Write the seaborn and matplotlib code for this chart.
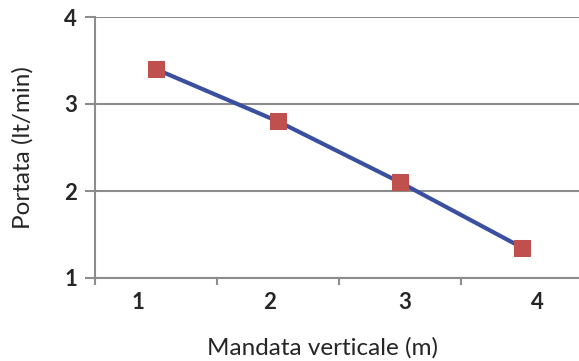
import pandas as pd
import matplotlib.pyplot as plt
import seaborn as sns

# dati
mandata = [1, 2, 3, 4]
portata = [3.4, 2.8, 2.1, 1.35]
xlabels = ['1', '2', '3', '4']

df = pd.DataFrame({'mandata': mandata, 'portata': portata})

sns.set_style('white')
plt.rcParams['font.family'] = ['Lato', 'DejaVu Sans']

fig = plt.figure(figsize=(5.79, 3.61), dpi=100)
ax = fig.add_axes([95 / 579, 1 - 278 / 361, (583 - 95) / 579, (278 - 17) / 361])

grey = '#8c8c8c'
sns.lineplot(data=df, x='mandata', y='portata', ax=ax, color='#3a4f9f',
             linewidth=3, marker='s', markersize=11.5,
             markerfacecolor='#c0504d', markeredgecolor='#c0504d', zorder=3)

ax.set_xlim(0.5, 4.5)
ax.set_ylim(1, 4)
ax.set_yticks([1, 2, 3, 4])
ax.yaxis.grid(True, color=grey, linewidth=1.5)
ax.set_axisbelow(True)

# tick tra le categorie, etichette leggermente spostate
ax.set_xticks([0.5, 1.5, 2.5, 3.5])
ax.set_xticklabels([])
ax.tick_params(axis='x', bottom=True, length=5, width=1.5, color=grey, direction='out')
ax.tick_params(axis='y', left=True, length=7, width=1.5, color=grey, direction='out', pad=6)
for lab in ax.get_yticklabels():
    lab.set_fontweight('bold')
    lab.set_fontsize(16)

lab_pos = [0.85, 1.93, 3.04, 4.13]
for p, t in zip(lab_pos, xlabels):
    ax.text(p, -0.055, t, transform=ax.get_xaxis_transform(), ha='center',
            va='top', fontsize=16, fontweight='bold')

for s in ['top', 'right']:
    ax.spines[s].set_visible(False)
for s in ['left', 'bottom']:
    ax.spines[s].set_color(grey)
    ax.spines[s].set_linewidth(1.5)

ax.set_xlabel('Mandata verticale (m)', fontsize=17.5)
ax.set_ylabel('Portata (lt/min)', fontsize=17.5)
ax.xaxis.set_label_coords((322 - 95) / 488, -0.225)
ax.yaxis.set_label_coords(-0.125, 0.5)

fig.savefig('out.png', dpi=100)
